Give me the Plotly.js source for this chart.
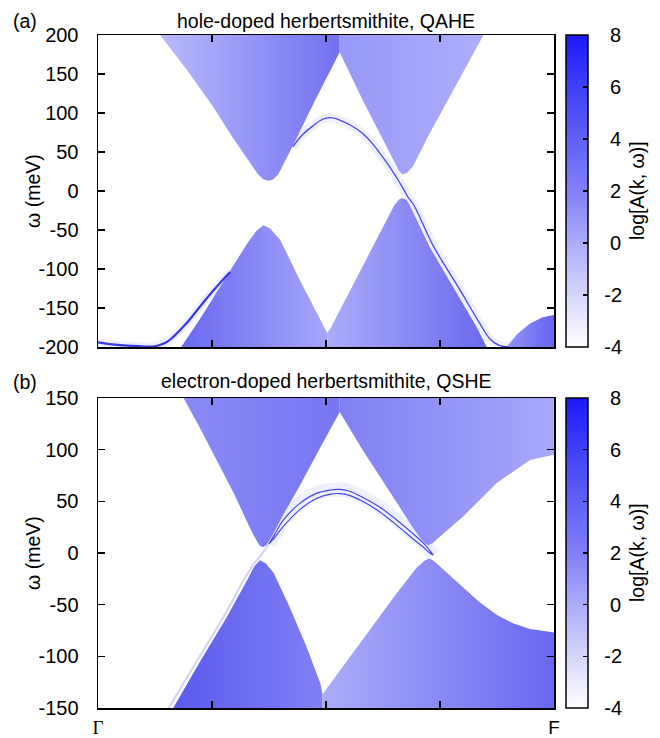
<!DOCTYPE html>
<html>
<head>
<meta charset="utf-8">
<script src="https://cdn.plot.ly/plotly-3.0.1.min.js"></script>
<style>html,body{margin:0;padding:0;background:#fff;}#chart{width:660px;height:738px;}</style>
</head>
<body>
<div id="chart"></div>
<script>
// ---------- data (k: 0 = Gamma ... 4 = F, omega in meV) ----------
// Panel (a): hole-doped, QAHE
const aUpLeftK  = [0.52, 0.544, 0.78, 1.01, 1.18, 1.33, 1.40, 1.45, 1.49, 1.53, 1.58, 1.71, 1.90, 2.12, 2.12];
const aUpLeftW  = [205, 200, 155, 108, 69, 36, 22, 15, 13, 14, 21, 58, 115, 178, 205];
const aUpRightK = [2.12, 2.12, 2.32, 2.50, 2.60, 2.64, 2.67, 2.71, 2.76, 2.91, 3.15, 3.38, 3.40];
const aUpRightW = [205, 178, 117, 65, 36, 26, 21, 23, 31, 74, 138, 200, 205];
const aLowLeftK = [0.70, 0.73, 0.89, 1.13, 1.31, 1.39, 1.45, 1.51, 1.60, 1.77, 1.92, 1.98, 2.01, 2.01];
const aLowLeftW = [-205, -200, -165, -110, -67, -51, -44, -48, -63, -114, -157, -175, -182, -205];
const aLowRightK = [2.01, 2.01, 2.04, 2.32, 2.47, 2.60, 2.64, 2.67, 2.71, 2.74, 2.91, 3.15, 3.32, 3.41, 3.43];
const aLowRightW = [-205, -182, -176, -97, -54, -18, -11, -9, -12, -20, -72, -131, -174, -200, -205];
const aBumpK = [3.56, 3.60, 3.68, 3.79, 3.90, 4.00, 4.05, 4.05];
const aBumpW = [-205, -197, -183, -170, -162, -159, -159, -205];
const aEdgeTopK = [1.71, 1.80, 1.89, 1.97, 2.04, 2.12, 2.22, 2.32, 2.40, 2.47, 2.55, 2.62, 2.67, 2.72, 2.77, 2.94, 3.18, 3.35, 3.44, 3.52, 3.60];
const aEdgeTopW = [57, 73, 84, 92, 94, 91, 84, 74, 62, 49, 33, 17, 5, -8, -18, -70, -128, -170, -190, -198, -200];
const aEdgeLowK = [0.00, 0.15, 0.35, 0.50, 0.60, 0.66, 0.78, 0.89, 1.01, 1.10, 1.16];
const aEdgeLowW = [-194, -197, -199, -199, -194, -187, -169, -149, -128, -113, -104];

// Panel (b): electron-doped, QSHE
const bUpLeftK  = [0.735, 0.75, 0.89, 1.04, 1.19, 1.33, 1.38, 1.42, 1.45, 1.48, 1.53, 1.62, 1.77, 1.95, 2.12, 2.12];
const bUpLeftW  = [155, 150, 122, 90, 58, 25, 14, 7, 5.5, 8, 17, 36, 65, 102, 136.5, 155];
const bUpRightK = [2.12, 2.12, 2.32, 2.47, 2.62, 2.76, 2.83, 2.87, 2.90, 2.94, 2.99, 3.20, 3.50, 3.79, 4.00, 4.05, 4.05];
const bUpRightW = [155, 136.5, 100, 74, 48, 25, 14, 9, 7.5, 10, 15, 35, 68, 90, 95, 95, 155];
const bLowLeftK = [0.64, 0.66, 0.89, 1.13, 1.31, 1.37, 1.42, 1.47, 1.54, 1.68, 1.83, 1.95, 1.97, 1.97];
const bLowLeftW = [-155, -150, -106, -62, -26, -13, -7, -10, -19, -52, -91, -126, -137, -155];
const bLowRightK = [1.97, 1.97, 2.04, 2.32, 2.62, 2.80, 2.87, 2.91, 2.96, 3.06, 3.20, 3.35, 3.50, 3.64, 3.79, 4.00, 4.05, 4.05];
const bLowRightW = [-155, -137, -126, -84, -39, -13.5, -7, -5, -9, -19, -33, -48, -60, -68, -73.5, -77, -77, -155];
const bEdge1K = [1.50, 1.55, 1.62, 1.77, 1.92, 2.04, 2.12, 2.20, 2.32, 2.47, 2.62, 2.76, 2.85, 2.90, 2.94];
const bEdge1W = [9, 18, 31, 48, 58, 61, 61.5, 60, 54, 44.5, 32, 19, 10, 4, -2];
const bEdge2K = [1.50, 1.55, 1.62, 1.77, 1.92, 2.04, 2.12, 2.20, 2.32, 2.47, 2.62, 2.76, 2.85, 2.90, 2.94];
const bEdge2W = [9, 15, 25, 42, 53, 57, 57.5, 56, 50, 40, 27, 14, 6, 1, -2];
const bEdgeLeftK = [0.62, 0.87, 1.11, 1.29, 1.37, 1.43, 1.50];
const bEdgeLeftW = [-150, -104, -60, -24, -10, -2, 9];

// axes / colour bar labels
const kTickVals = [0, 1, 2, 3, 4];
const kTickTextA = ['', '', '', '', ''];
const kTickTextB = ['<span style="font-family:\'Liberation Serif\',serif;">Γ</span>', '', '', '', 'F'];
const wTicksA = [-200, -150, -100, -50, 0, 50, 100, 150, 200];
const wTicksB = [-150, -100, -50, 0, 50, 100, 150];
const cbTicks = [-4, -2, 0, 2, 4, 6, 8];
const titleA = 'hole-doped herbertsmithite, QAHE';
const titleB = 'electron-doped herbertsmithite, QSHE';
const yTitle = 'ω (meV)';
const cbTitle = 'log[A(k, ω)]';

// ---------- drawing ----------
const FONT = 'Liberation Sans, Arial, Helvetica, sans-serif';
const FS = 19.5;
const W = 660, H = 738;
const px = v => v / W, py = v => 1 - v / H;

function band(k, w, ax, c1, c2, s0, s1) {
  return {type: 'scatter', x: k, y: w, xaxis: ax[0], yaxis: ax[1], mode: 'lines',
    fill: 'toself', line: {width: 0, color: 'rgba(0,0,0,0)'}, hoverinfo: 'skip',
    fillcolor: c2,
    fillgradient: {type: 'horizontal', start: s0, stop: s1, colorscale: [[0, c1], [1, c2]]}};
}
function edge(k, w, ax, color, width) {
  return {type: 'scatter', x: k, y: w, xaxis: ax[0], yaxis: ax[1], mode: 'lines',
    line: {color: color, width: width, shape: 'spline', smoothing: 1}, hoverinfo: 'skip'};
}
const A = ['x', 'y'], B = ['x2', 'y2'];
const halo = 'rgba(130,130,246,0.13)';
const eCol = 'rgb(70,70,236)';

const cscale = [[0, 'rgb(255,255,255)'], [0.333, 'rgb(172,172,250)'], [0.5, 'rgb(128,128,248)'],
                [0.667, 'rgb(96,96,247)'], [0.833, 'rgb(64,64,250)'], [1, 'rgb(25,25,255)']];
// colour bar labels: padded with no-break spaces to sit where the reference puts them
const cbText = cbTicks.map(v => (v < 0 ? '\u00a0\u00a0' : '\u00a0\u00a0\u00a0') + String(v));
function cbTrace(ax, yc, len) {
  return {type: 'scatter', x: [-10, -10], y: [0, 0], xaxis: ax[0], yaxis: ax[1], mode: 'markers',
    hoverinfo: 'skip',
    marker: {color: [-4, 8], cmin: -4, cmax: 8, colorscale: cscale, showscale: true, size: 1,
      colorbar: {x: px(566), xanchor: 'left', xref: 'paper', y: yc, yanchor: 'middle', yref: 'paper',
        len: len, lenmode: 'pixels', thickness: 22, thicknessmode: 'pixels', xpad: 0, ypad: 0,
        outlinewidth: 1.5, outlinecolor: '#000', borderwidth: 0, bgcolor: 'rgba(0,0,0,0)',
        ticks: 'inside', ticklen: 5, tickwidth: 1.5, tickcolor: '#000',
        tickvals: cbTicks, ticktext: cbText,
        tickfont: {family: FONT, size: 20, color: '#000'}}}};
}

const traces = [
  band(aUpLeftK, aUpLeftW, A, 'rgb(185,185,251)', 'rgb(114,114,242)', 0.55, 2.1),
  band(aUpRightK, aUpRightW, A, 'rgb(152,152,248)', 'rgb(174,174,251)', 2.12, 3.4),
  band(aLowLeftK, aLowLeftW, A, 'rgb(104,104,240)', 'rgb(165,165,250)', 0.7, 2.0),
  band(aLowRightK, aLowRightW, A, 'rgb(172,172,250)', 'rgb(106,106,240)', 2.0, 3.4),
  band(aBumpK, aBumpW, A, 'rgb(150,150,248)', 'rgb(100,100,240)', 3.56, 4.0),
  edge(aEdgeTopK, aEdgeTopW, A, halo, 9),
  edge(aEdgeTopK, aEdgeTopW, A, eCol, 1.3),
  edge(aEdgeLowK, aEdgeLowW, A, halo, 8),
  edge(aEdgeLowK, aEdgeLowW, A, 'rgb(55,55,236)', 2.2),

  band(bUpLeftK, bUpLeftW, B, 'rgb(138,138,246)', 'rgb(118,118,242)', 0.75, 2.1),
  band(bUpRightK, bUpRightW, B, 'rgb(128,128,244)', 'rgb(168,168,250)', 2.12, 4.0),
  band(bLowLeftK, bLowLeftW, B, 'rgb(90,90,238)', 'rgb(128,128,244)', 0.66, 1.97),
  band(bLowRightK, bLowRightW, B, 'rgb(172,172,250)', 'rgb(104,104,240)', 1.97, 4.0),
  edge(bEdge1K, bEdge1W, B, halo, 14),
  edge(bEdge1K, bEdge1W, B, eCol, 1.2),
  edge(bEdge2K, bEdge2W, B, eCol, 1.2),
  edge(bEdgeLeftK, bEdgeLeftW, B, 'rgba(150,150,247,0.45)', 2),

  cbTrace(A, py(191), 312),
  cbTrace(B, py(553), 310)
];

function xax(anchor, text) {
  return {domain: [px(98), px(554)], range: [0, 4], anchor: anchor, tickvals: kTickVals, ticktext: text,
    ticks: 'inside', ticklen: 7, tickwidth: 1.5, tickcolor: '#000', mirror: 'ticks', showline: true,
    linewidth: 1.5, linecolor: '#000', showgrid: false, zeroline: false, ticklabelstandoff: 2,
    tickfont: {family: FONT, size: 19, color: '#000'}, fixedrange: true};
}
function yax(anchor, dom, range, ticks) {
  return {domain: dom, range: range, anchor: anchor, tickvals: ticks, ticktext: ticks.map(String),
    ticks: 'inside', ticklen: 7, tickwidth: 1.5, tickcolor: '#000', mirror: 'ticks', showline: true,
    linewidth: 1.5, linecolor: '#000', showgrid: false, zeroline: false, ticklabelstandoff: 14,
    tickfont: {family: FONT, size: 20, color: '#000'}, fixedrange: true};
}
function ann(x, y, text, extra) {
  return Object.assign({xref: 'paper', yref: 'paper', x: px(x), y: py(y), text: text, showarrow: false,
    xanchor: 'center', yanchor: 'middle', font: {family: FONT, size: FS, color: '#000'}}, extra || {});
}

const layout = {
  width: W, height: H, margin: {l: 0, r: 0, t: 0, b: 0}, paper_bgcolor: '#fff', plot_bgcolor: '#fff',
  showlegend: false, hovermode: false,
  xaxis: xax('y', kTickTextA),
  yaxis: yax('x', [py(347), py(35)], [-200, 200], wTicksA),
  xaxis2: xax('y2', kTickTextB),
  yaxis2: yax('x2', [py(708), py(398)], [-150, 150], wTicksB),
  annotations: [
    ann(25, 21, '(a)'), ann(326, 21, titleA),
    ann(25, 382, '(b)'), ann(326, 381, titleB),
    ann(33, 191, yTitle, {textangle: -90}), ann(33, 553, yTitle, {textangle: -90}),
    ann(637, 191, cbTitle, {textangle: -90}), ann(637, 553, cbTitle, {textangle: -90})
  ]
};

Plotly.newPlot('chart', traces, layout, {displayModeBar: false, staticPlot: true});
</script>
</body>
</html>
